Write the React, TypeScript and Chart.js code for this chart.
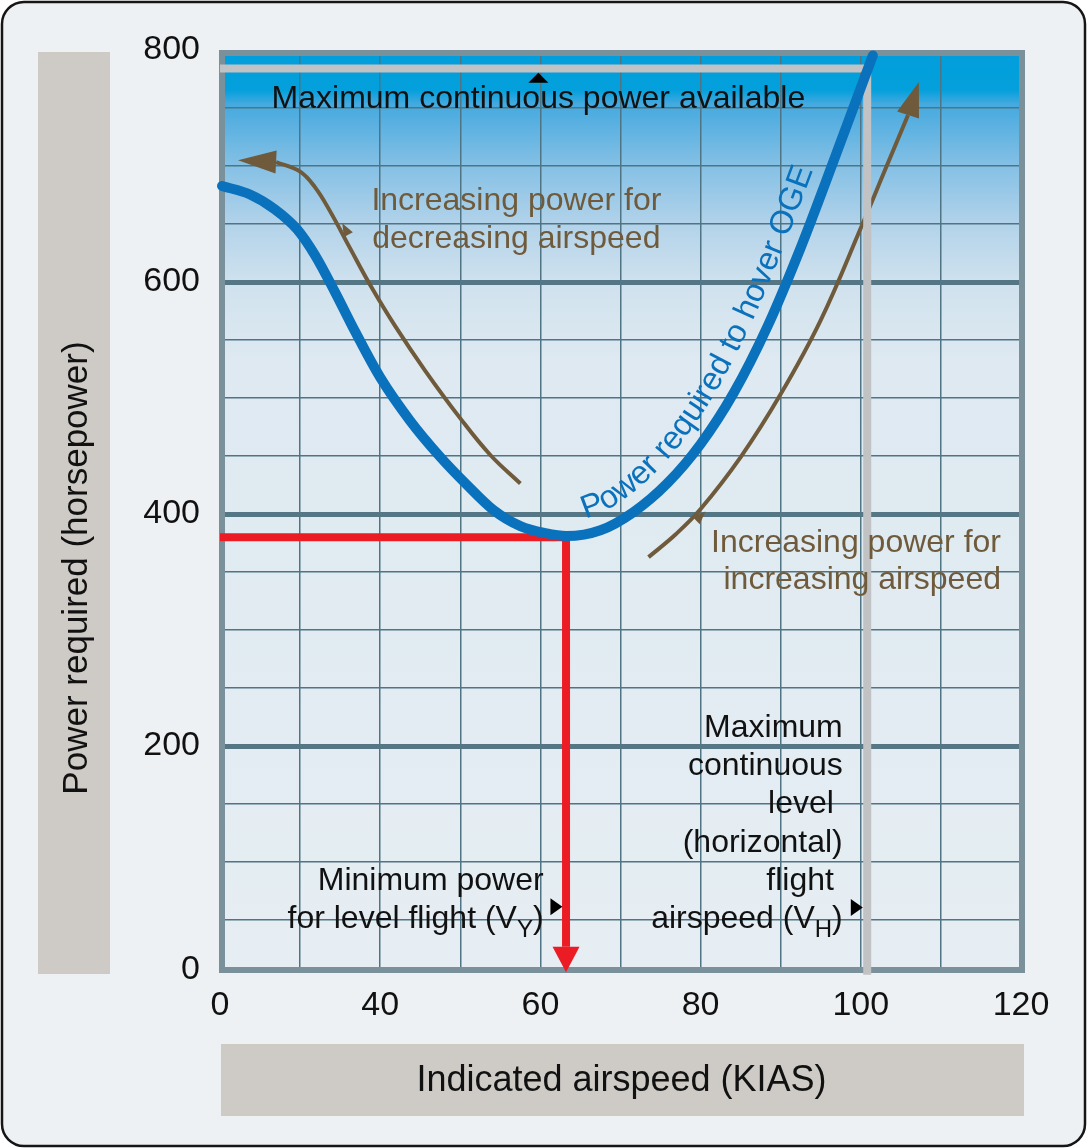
import React, { useEffect, useRef } from 'react';
import { Chart, registerables } from 'chart.js';

Chart.register(...registerables);

const FONT = '"Liberation Sans", Arimo, Arial, Helvetica, sans-serif';

// ---------- axes (the printed "0" sits where a continuous scale would read 20) ----------
const xGridValues = [20, 30, 40, 50, 60, 70, 80, 90, 100, 110, 120];
const xTickLabels = ['0', '', '40', '', '60', '', '80', '', '100', '', '120'];
const yGridValues = [7, 50, 100, 150, 200, 250, 300, 350, 400, 450, 500, 550, 600, 650, 700, 750, 800];
const yTickLabels = ['0', '', '', '', '200', '', '', '', '400', '', '', '', '600', '', '', '', '800'];
const yMajorValues = [200, 400, 600];

// ---------- power required curve ----------
const powerAirspeed = [20.25, 23.75, 26.875, 29.625, 31.875, 34.375, 36.875, 40, 43.75, 47.5, 50.75, 54.125, 57.5, 60.625, 63.25, 67.5, 71.625, 75.875, 80, 84.125, 88.375, 92.5, 96.625, 101.5];
const powerRequired = [682.8, 675.5, 662.6, 645.5, 623, 591.1, 557.2, 517.8, 480.3, 449.2, 425.7, 403.5, 389.6, 383.5, 381, 386, 401.7, 426.7, 460.3, 504.3, 562.1, 629.7, 704.7, 795.3];

// ---------- reference lines ----------
const vyAirspeed = 63.2;
const vyPower = 380;
const vyArrowBase = 27;
const vyArrowTip = 5;
const vhAirspeed = 100.8;
const maxContinuousPower = 784;
const vhLineBottom = 3;

// ---------- brown trend arrows ----------
const decelArrowAirspeed = [57.5, 53.75, 50, 45.625, 41.875, 38.75, 36.25, 33.75, 31.875, 30, 27];
const decelArrowPower = [426.3, 450.9, 482.5, 523.5, 562, 597.5, 629, 660.9, 681.6, 695.2, 703.4];
const decelArrowTip = [22.25, 705];
const accelArrowAirspeed = [73.5, 76.9, 80, 85, 90, 95, 100, 103.1, 105.9];
const accelArrowPower = [362.9, 382.6, 404.3, 449.1, 503.4, 567.2, 646.6, 697.8, 744];
const accelArrowTip = [107.25, 772.4];

// ---------- small black pointer triangles ----------
const markerAirspeed = [59.75, 62, 99.5];
const markerPower = [776, 61.6, 60.8];
const markerDirection = ['up', 'right', 'right'];

// ---------- labels ----------
const xTitle = 'Indicated airspeed (KIAS)';
const yTitle = 'Power required (horsepower)';
const curveLabel = 'Power required to hover OGE';
const curveLabelStart = 65.6;
const maxPowerLabel = 'Maximum continuous power available';
const decelLabel = ['Increasing power for', 'decreasing airspeed'];
const accelLabel = ['Increasing power for', 'increasing airspeed'];

const BLUE = '#0a71bc';
const BROWN = '#6f5b3b';
const RED = '#ec1c24';
const GRAY = '#c1c2c4';

type Seg = { t: string; sub?: boolean };
type Pt = { x: number; y: number };

function tri(ctx: CanvasRenderingContext2D, p: Pt[], color: string) {
  ctx.beginPath();
  ctx.moveTo(p[0].x, p[0].y);
  ctx.lineTo(p[1].x, p[1].y);
  ctx.lineTo(p[2].x, p[2].y);
  ctx.closePath();
  ctx.fillStyle = color;
  ctx.fill();
}

function arrowHead(ctx: CanvasRenderingContext2D, base: Pt, tip: Pt, halfW: number, color: string) {
  const dx = tip.x - base.x, dy = tip.y - base.y;
  const L = Math.hypot(dx, dy);
  const nx = -dy / L, ny = dx / L;
  tri(ctx, [tip, { x: base.x + nx * halfW, y: base.y + ny * halfW }, { x: base.x - nx * halfW, y: base.y - ny * halfW }], color);
}

function barb(ctx: CanvasRenderingContext2D, a: Pt, b: Pt, f: number, color: string) {
  const dx = b.x - a.x, dy = b.y - a.y;
  const L = Math.hypot(dx, dy);
  const d = { x: dx / L, y: dy / L };
  const n = { x: -d.y, y: d.x };
  const p = { x: a.x + dx * f, y: a.y + dy * f };
  const c = { x: p.x + n.x * 5, y: p.y + n.y * 5 };
  tri(ctx, [
    { x: c.x + d.x * 7, y: c.y + d.y * 7 },
    { x: c.x - d.x * 6 + n.x * 5, y: c.y - d.y * 6 + n.y * 5 },
    { x: c.x - d.x * 6 - n.x * 5, y: c.y - d.y * 6 - n.y * 5 },
  ], color);
}

function drawRich(ctx: CanvasRenderingContext2D, segs: Seg[], x: number, y: number, align: string, size: number, color: string) {
  const main = `${size}px ${FONT}`;
  const small = `${Math.round(size * 0.75)}px ${FONT}`;
  let total = 0;
  for (const s of segs) {
    ctx.font = s.sub ? small : main;
    total += ctx.measureText(s.t).width;
  }
  let cx = align === 'left' ? x : align === 'center' ? x - total / 2 : x - total;
  ctx.textAlign = 'left';
  ctx.textBaseline = 'alphabetic';
  ctx.fillStyle = color;
  for (const s of segs) {
    ctx.font = s.sub ? small : main;
    ctx.fillText(s.t, cx, s.sub ? y + 9 : y);
    cx += ctx.measureText(s.t).width;
  }
}

function sampleCurve(chart: any): Pt[] {
  const els = chart.getDatasetMeta(0).data as any[];
  const out: Pt[] = [];
  for (let i = 0; i < els.length - 1; i++) {
    const a = els[i], b = els[i + 1];
    const c1x = a.cp2x ?? a.x, c1y = a.cp2y ?? a.y, c2x = b.cp1x ?? b.x, c2y = b.cp1y ?? b.y;
    for (let k = 0; k < 16; k++) {
      const t = k / 16, u = 1 - t;
      out.push({
        x: u * u * u * a.x + 3 * u * u * t * c1x + 3 * u * t * t * c2x + t * t * t * b.x,
        y: u * u * u * a.y + 3 * u * u * t * c1y + 3 * u * t * t * c2y + t * t * t * b.y,
      });
    }
  }
  const last = els[els.length - 1];
  out.push({ x: last.x, y: last.y });
  return out;
}

function drawCurveText(ctx: CanvasRenderingContext2D, chart: any, text: string, startPx: number, offset: number, size: number) {
  const pts = sampleCurve(chart);
  let minI = 0;
  pts.forEach((p, i) => { if (p.y > pts[minI].y) minI = i; });
  const q: Pt[] = [];
  for (let i = minI; i < pts.length; i++) {
    const a = pts[Math.max(i - 1, 0)], b = pts[Math.min(i + 1, pts.length - 1)];
    const ang = Math.atan2(b.y - a.y, b.x - a.x);
    q.push({ x: pts[i].x + Math.sin(ang) * offset, y: pts[i].y - Math.cos(ang) * offset });
  }
  const cum = [0];
  for (let i = 1; i < q.length; i++) cum.push(cum[i - 1] + Math.hypot(q[i].x - q[i - 1].x, q[i].y - q[i - 1].y));
  let s = 0;
  for (let i = 1; i < q.length; i++) {
    if (q[i].x >= startPx) {
      const f = (startPx - q[i - 1].x) / (q[i].x - q[i - 1].x || 1);
      s = cum[i - 1] + Math.max(0, Math.min(1, f)) * (cum[i] - cum[i - 1]);
      break;
    }
  }
  const at = (d: number) => {
    let i = 1;
    while (i < q.length - 1 && cum[i] < d) i++;
    const seg = cum[i] - cum[i - 1] || 1;
    const f = (d - cum[i - 1]) / seg;
    const j0 = Math.max(i - 3, 0), j1 = Math.min(i + 2, q.length - 1);
    return {
      x: q[i - 1].x + (q[i].x - q[i - 1].x) * f,
      y: q[i - 1].y + (q[i].y - q[i - 1].y) * f,
      a: Math.atan2(q[j1].y - q[j0].y, q[j1].x - q[j0].x),
    };
  };
  ctx.font = `${size}px ${FONT}`;
  ctx.fillStyle = BLUE;
  ctx.textAlign = 'center';
  ctx.textBaseline = 'alphabetic';
  for (const ch of text) {
    const w = ctx.measureText(ch).width;
    const p = at(s + w / 2);
    ctx.save();
    ctx.translate(p.x, p.y);
    ctx.rotate(p.a);
    ctx.fillText(ch, 0, 0);
    ctx.restore();
    s += w;
  }
}

function roundRect(ctx: CanvasRenderingContext2D, x: number, y: number, w: number, h: number, r: number) {
  ctx.beginPath();
  ctx.moveTo(x + r, y);
  ctx.lineTo(x + w - r, y);
  ctx.arcTo(x + w, y, x + w, y + r, r);
  ctx.lineTo(x + w, y + h - r);
  ctx.arcTo(x + w, y + h, x + w - r, y + h, r);
  ctx.lineTo(x + r, y + h);
  ctx.arcTo(x, y + h, x, y + h - r, r);
  ctx.lineTo(x, y + r);
  ctx.arcTo(x, y, x + r, y, r);
  ctx.closePath();
}

const decor = {
  id: 'decor',
  beforeDraw(chart: any) {
    const { ctx, chartArea: a } = chart;
    ctx.save();
    ctx.fillStyle = '#ffffff';
    ctx.fillRect(0, 0, chart.width, chart.height);
    roundRect(ctx, 2, 2, 1083, 1144, 22);
    ctx.fillStyle = '#eef1f3';
    ctx.fill();
    ctx.lineWidth = 2.5;
    ctx.strokeStyle = '#161616';
    ctx.stroke();

    ctx.fillStyle = '#cecbc7';
    ctx.fillRect(38, a.top + 2, 72, a.bottom - a.top + 2);
    ctx.fillRect(a.left + 1, 1044, a.right - a.left + 2, 72);

    const h = a.bottom - a.top;
    const g = ctx.createLinearGradient(0, a.top, 0, a.bottom);
    const stop = (py: number, c: string) => g.addColorStop(Math.min(1, Math.max(0, (py - a.top) / h)), c);
    stop(50, '#009edb');
    stop(90, '#03a0dc');
    stop(104, '#45a9df');
    stop(165, '#84c0e5');
    stop(225, '#b3d3ea');
    stop(285, '#d0e2ee');
    stop(360, '#dee9f1');
    stop(970, '#e6eef3');
    ctx.fillStyle = g;
    ctx.fillRect(a.left, a.top, a.right - a.left, h);

    ctx.fillStyle = '#111';
    ctx.font = `36px ${FONT}`;
    ctx.textAlign = 'center';
    ctx.textBaseline = 'alphabetic';
    ctx.fillText(xTitle, (a.left + a.right) / 2 + 1, 1091);
    ctx.save();
    ctx.translate(87, 568);
    ctx.rotate(-Math.PI / 2);
    ctx.font = `35px ${FONT}`;
    ctx.fillText(yTitle, 0, 0);
    ctx.restore();
    ctx.restore();
  },
  beforeDatasetsDraw(chart: any) {
    const { ctx, chartArea: a } = chart;
    ctx.save();
    ctx.strokeStyle = '#7a909b';
    ctx.lineWidth = 6;
    ctx.strokeRect(a.left + 2, a.top + 3, a.right + 1 - (a.left + 2), a.bottom - (a.top + 3));
    ctx.restore();
  },
  afterDatasetsDraw(chart: any) {
    const { ctx } = chart;
    const X = (v: number) => chart.scales.x.getPixelForValue(v);
    const Y = (v: number) => chart.scales.y.getPixelForValue(v);
    const P = (x: number, y: number) => ({ x: X(x), y: Y(y) });
    ctx.save();

    // arrowheads
    const dl = decelArrowAirspeed.length - 1;
    arrowHead(ctx, P(decelArrowAirspeed[dl], decelArrowPower[dl]), P(decelArrowTip[0], decelArrowTip[1]), 11.5, BROWN);
    const al = accelArrowAirspeed.length - 1;
    arrowHead(ctx, P(accelArrowAirspeed[al], accelArrowPower[al]), P(accelArrowTip[0], accelArrowTip[1]), 11.5, BROWN);
    barb(ctx, P(decelArrowAirspeed[6], decelArrowPower[6]), P(decelArrowAirspeed[7], decelArrowPower[7]), 0.45, BROWN);
    barb(ctx, P(accelArrowAirspeed[1], accelArrowPower[1]), P(accelArrowAirspeed[2], accelArrowPower[2]), 0.85, BROWN);
    arrowHead(ctx, P(vyAirspeed, vyArrowBase), P(vyAirspeed, vyArrowTip), 13.5, RED);

    // pointer triangles
    markerAirspeed.forEach((mx, i) => {
      const c = P(mx, markerPower[i]);
      if (markerDirection[i] === 'up') {
        tri(ctx, [{ x: c.x, y: c.y - 5 }, { x: c.x - 10, y: c.y + 5 }, { x: c.x + 10, y: c.y + 5 }], '#000');
      } else {
        tri(ctx, [{ x: c.x + 6, y: c.y }, { x: c.x - 6, y: c.y - 8.5 }, { x: c.x - 6, y: c.y + 8.5 }], '#000');
      }
    });

    // labels
    drawRich(ctx, [{ t: maxPowerLabel }], X(59.75), Y(750), 'center', 32, '#111');
    drawRich(ctx, [{ t: decelLabel[0] }], X(57), Y(662), 'center', 32, BROWN);
    drawRich(ctx, [{ t: decelLabel[1] }], X(57), Y(629.3), 'center', 32, BROWN);
    drawRich(ctx, [{ t: accelLabel[0] }], X(117.5), Y(367.2), 'right', 32, BROWN);
    drawRich(ctx, [{ t: accelLabel[1] }], X(117.5), Y(335.3), 'right', 32, BROWN);

    drawRich(ctx, [{ t: 'Minimum power' }], X(60.4), Y(75.9), 'right', 32, '#111');
    drawRich(ctx, [{ t: 'for level flight (V' }, { t: 'Y', sub: true }, { t: ')' }], X(60.4), Y(43.1), 'right', 32, '#111');

    const vhLines: Seg[][] = [
      [{ t: 'Maximum' }],
      [{ t: 'continuous' }],
      [{ t: 'level ' }],
      [{ t: '(horizontal)' }],
      [{ t: 'flight ' }],
      [{ t: 'airspeed (V' }, { t: 'H', sub: true }, { t: ')' }],
    ];
    const vhTop = Y(207.8);
    vhLines.forEach((segs, i) => drawRich(ctx, segs, X(97.75), vhTop + i * 38.2, 'right', 32, '#111'));

    drawCurveText(ctx, chart, curveLabel, X(curveLabelStart), 16, 32.5);
    ctx.restore();
  },
};

export default function App() {
  const ref = useRef<HTMLCanvasElement>(null);
  useEffect(() => {
    const canvas = ref.current!;
    const pts = (xs: number[], ys: number[]) => xs.map((x, i) => ({ x, y: ys[i] }));
    const chart = new Chart(canvas, {
      type: 'line',
      data: {
        datasets: [
          {
            label: curveLabel,
            data: pts(powerAirspeed, powerRequired),
            borderColor: BLUE,
            borderWidth: 10,
            cubicInterpolationMode: 'monotone',
            borderCapStyle: 'round',
            pointRadius: 0,
            order: 0,
            clip: false,
          },
          {
            label: 'VH / max continuous power',
            data: [
              { x: 20, y: maxContinuousPower },
              { x: vhAirspeed, y: maxContinuousPower },
              { x: vhAirspeed, y: vhLineBottom },
            ],
            borderColor: GRAY,
            borderWidth: 8,
            borderJoinStyle: 'miter',
            pointRadius: 0,
            tension: 0,
            order: 1,
            clip: false,
          },
          {
            label: 'Vy',
            data: [
              { x: 20, y: vyPower },
              { x: vyAirspeed, y: vyPower },
              { x: vyAirspeed, y: vyArrowBase },
            ],
            borderColor: RED,
            borderWidth: 8,
            borderJoinStyle: 'miter',
            pointRadius: 0,
            tension: 0,
            order: 2,
            clip: false,
          },
          {
            label: 'decreasing airspeed',
            data: pts(decelArrowAirspeed, decelArrowPower),
            borderColor: BROWN,
            borderWidth: 4,
            tension: 0.4,
            pointRadius: 0,
            order: 3,
            clip: false,
          },
          {
            label: 'increasing airspeed',
            data: pts(accelArrowAirspeed, accelArrowPower),
            borderColor: BROWN,
            borderWidth: 4,
            tension: 0.4,
            pointRadius: 0,
            order: 3,
            clip: false,
          },
        ] as any,
      },
      options: {
        responsive: false,
        animation: false,
        devicePixelRatio: 1,
        layout: { padding: { top: 50, right: 67, left: 0, bottom: 0 } },
        plugins: { legend: { display: false }, tooltip: { enabled: false } },
        scales: {
          x: {
            type: 'linear',
            min: 20,
            max: 120,
            afterBuildTicks: (s: any) => { s.ticks = xGridValues.map((v) => ({ value: v })); },
            afterFit: (s: any) => { s.height = 178; },
            ticks: {
              autoSkip: false,
              maxRotation: 0,
              minRotation: 0,
              padding: 15,
              color: '#111',
              font: { family: FONT, size: 34 },
              callback: (v: any) => xTickLabels[xGridValues.indexOf(Number(v))] ?? '',
            },
            grid: {
              drawTicks: false,
              color: '#4f7483',
              lineWidth: (c: any) => (c.tick && (c.tick.value === 20 || c.tick.value === 120) ? 0 : 1.5),
            },
            border: { display: false },
          },
          y: {
            type: 'linear',
            min: 7,
            max: 800,
            afterBuildTicks: (s: any) => { s.ticks = yGridValues.map((v) => ({ value: v })); },
            afterFit: (s: any) => { s.width = 220; },
            ticks: {
              autoSkip: false,
              padding: 20,
              color: '#111',
              font: { family: FONT, size: 34 },
              callback: (v: any) => yTickLabels[yGridValues.indexOf(Number(v))] ?? '',
            },
            grid: {
              drawTicks: false,
              color: (c: any) => (c.tick && yMajorValues.includes(c.tick.value) ? '#557685' : '#4f7483'),
              lineWidth: (c: any) => {
                const v = c.tick ? c.tick.value : 0;
                if (v === 7 || v === 800) return 0;
                return yMajorValues.includes(v) ? 5 : 1.5;
              },
            },
            border: { display: false },
          },
        },
      } as any,
      plugins: [decor],
    });
    return () => chart.destroy();
  }, []);
  return (
    <div style={{ position: 'absolute', left: 0, top: 0, width: 1088, height: 1148 }}>
      <canvas ref={ref} width={1088} height={1148} style={{ display: 'block', width: 1088, height: 1148 }} />
    </div>
  );
}
